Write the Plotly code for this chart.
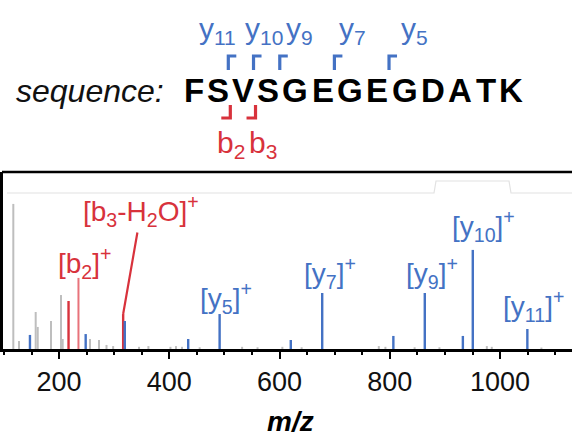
import plotly.graph_objects as go

# ---------------- data ----------------
sequence = list("FSVSGEGEGDATK")
y_ions = [11, 10, 9, 7, 5]          # marked y-ion cleavages
b_ions = [2, 3]                     # marked b-ion cleavages

grey_mz = [116.9, 127.2, 157.5, 161.2, 185.3, 203.4, 206.5, 256.0, 272.4, 286.0, 298.0,
           345.0, 362.0, 402.0, 412.0, 423.0, 455.0, 532.0, 560.0, 605.0, 640.0, 780.0,
           792.0, 845.0, 890.0, 976.0, 985.0, 1075.0]
grey_int = [100.0, 5.5, 25.5, 15.2, 19.3, 37.2, 6.9, 6.9, 6.2, 2.8, 2.0,
            1.5, 2.0, 1.5, 2.0, 1.5, 1.2, 1.5, 1.2, 1.5, 1.2, 2.0,
            1.5, 1.2, 1.2, 2.0, 1.5, 1.0]

red_mz = [217.1, 316.2]              # [b2-H2O]+, [b3-H2O]+
red_int = [33.1, 24.1]
b2_mz = [235.1]                      # [b2]+
b2_int = [49.0]

blue_mz = [147.1, 248.2, 319.2, 434.2, 491.2, 620.3, 677.3, 806.4, 863.4, 932.5, 950.5, 1049.5]
blue_int = [9.7, 10.3, 19.3, 6.9, 24.1, 6.2, 38.6, 9.0, 38.6, 9.0, 68.3, 13.8]

x_ticks = [200, 400, 600, 800, 1000]

# ---------------- style ----------------
W, H = 572, 436
FONT = "Liberation Sans, Arial, sans-serif"
BLUE = "#4472C4"
RED = "#D8323C"
RED_LIGHT = "#E8737B"
GREY = "#BEBEBE"

def px(x):   # pixel -> paper x
    return x / W

def py(y):   # pixel -> paper y
    return 1 - y / H

def sticks(mz, it):
    xs, ys = [], []
    for m, v in zip(mz, it):
        xs += [m, m, None]
        ys += [0, v, None]
    return xs, ys

fig = go.Figure()
for mz, it, col, w in [(grey_mz, grey_int, GREY, 2.0),
                       (red_mz, red_int, RED, 2.4),
                       (b2_mz, b2_int, RED_LIGHT, 2.0),
                       (blue_mz, blue_int, BLUE, 2.4)]:
    xs, ys = sticks(mz, it)
    fig.add_trace(go.Scatter(x=xs, y=ys, mode="lines", line=dict(color=col, width=w),
                             hoverinfo="skip", showlegend=False))

plot_left, plot_top, plot_bottom = 3, 172, 349
fig.update_layout(
    width=W, height=H,
    margin=dict(l=0, r=0, t=0, b=0),
    paper_bgcolor="white", plot_bgcolor="white",
    showlegend=False,
    xaxis=dict(domain=[px(plot_left), 1], range=[98.2, 1130.5],
               tickvals=x_ticks, ticks="outside", ticklen=7, tickwidth=2, tickcolor="black",
               showline=True, linecolor="black", linewidth=2.5, showgrid=False, zeroline=False,
               tickfont=dict(family=FONT, size=27, color="#111111"), ticklabelstandoff=0,
               minor=dict(dtick=50, tick0=0, ticks="outside", ticklen=3, tickwidth=1.5,
                          tickcolor="black", showgrid=False)),
    yaxis=dict(domain=[py(plot_bottom), py(plot_top)], range=[0, 122],
               showline=True, linecolor="black", linewidth=2.5, showgrid=False,
               zeroline=False, showticklabels=False, ticks=""),
)

shapes = []
# top frame line
shapes.append(dict(type="line", xref="paper", yref="paper", x0=px(plot_left - 1), x1=1,
                   y0=py(plot_top), y1=py(plot_top), line=dict(color="black", width=2.5)))
# faint grey guide line with raised notch
path = (f"M {px(7)},{py(193)} L {px(434)},{py(193)} L {px(436)},{py(181)} "
        f"L {px(509)},{py(181)} L {px(511)},{py(193)} L 1,{py(193)}")
shapes.append(dict(type="path", xref="paper", yref="paper", path=path,
                   line=dict(color="#E2E2E2", width=1.2)))

annotations = []
# ---- sequence ----
bold_w = {"F": .611, "S": .667, "V": .667, "G": .778, "E": .667, "D": .722,
          "A": .722, "T": .611, "K": .722}
x0, k = 182.0, 37.8
centers = []
cum = 0.0
for ch in sequence:
    w = bold_w[ch]
    centers.append(x0 + k * (cum + w / 2))
    cum += w
seq_y = 90
for ch, cx in zip(sequence, centers):
    annotations.append(dict(text=f"<b>{ch}</b>", x=px(cx), y=py(seq_y), xref="paper", yref="paper",
                            showarrow=False, xanchor="center", yanchor="middle",
                            font=dict(family=FONT, size=33, color="black")))
annotations.append(dict(text="<i>sequence:</i>", x=px(166), y=py(seq_y + 1), xref="paper", yref="paper",
                        showarrow=False, xanchor="right", yanchor="middle",
                        font=dict(family=FONT, size=32, color="#111111")))

n = len(sequence)
# y-ion brackets (Γ shape) at boundary before residue n-k
y_label_x = {11: 217.5, 10: 263.5, 9: 299, 7: 352.5, 5: 414}
for ion in y_ions:
    i = n - ion
    b = (centers[i - 1] + centers[i]) / 2 - 2
    path = f"M {px(b)},{py(70)} L {px(b)},{py(56)} L {px(b + 8)},{py(56)}"
    shapes.append(dict(type="path", xref="paper", yref="paper", path=path,
                       line=dict(color=BLUE, width=3.2)))
    annotations.append(dict(text=f"y<sub>{ion}</sub>", x=px(y_label_x[ion]), y=py(30),
                            xref="paper", yref="paper", showarrow=False,
                            xanchor="center", yanchor="middle",
                            font=dict(family=FONT, size=30, color=BLUE)))
# b-ion brackets (⌟ shape)
b_label_x = {2: 231, 3: 263}
for ion in b_ions:
    b = (centers[ion - 1] + centers[ion]) / 2
    path = f"M {px(b)},{py(105)} L {px(b)},{py(118)} L {px(b - 9)},{py(118)}"
    shapes.append(dict(type="path", xref="paper", yref="paper", path=path,
                       line=dict(color=RED, width=3.2)))
    annotations.append(dict(text=f"b<sub>{ion}</sub>", x=px(b_label_x[ion]), y=py(145),
                            xref="paper", yref="paper", showarrow=False,
                            xanchor="center", yanchor="middle",
                            font=dict(family=FONT, size=30, color=RED)))

# ---- peak labels ----
peak_labels = [
    ("[b<sub>2</sub>]<sup>+</sup>", 84.5, 263, RED),
    ("[y<sub>5</sub>]<sup>+</sup>", 226, 297.5, BLUE),
    ("[y<sub>7</sub>]<sup>+</sup>", 330, 272.5, BLUE),
    ("[y<sub>9</sub>]<sup>+</sup>", 431.5, 272.5, BLUE),
    ("[y<sub>10</sub>]<sup>+</sup>", 483.5, 226.5, BLUE),
    ("[y<sub>11</sub>]<sup>+</sup>", 533.5, 305.5, BLUE),
]
for txt, cx, cy, col in peak_labels:
    annotations.append(dict(text=txt, x=px(cx), y=py(cy), xref="paper", yref="paper",
                            showarrow=False, xanchor="center", yanchor="middle",
                            font=dict(family=FONT, size=28, color=col)))
# [b3-H2O]+ with leader line to its peak
annotations.append(dict(text="[b<sub>3</sub>-H<sub>2</sub>O]<sup>+</sup>",
                        x=red_mz[1], y=red_int[1], xref="x", yref="y",
                        showarrow=True, arrowhead=0, arrowwidth=2.2, arrowcolor=RED,
                        standoff=0, ax=18, ay=-103,
                        font=dict(family=FONT, size=28, color=RED)))
# axis title
annotations.append(dict(text="<b><i>m/z</i></b>", x=px(290), y=py(421), xref="paper", yref="paper",
                        showarrow=False, xanchor="center", yanchor="middle",
                        font=dict(family=FONT, size=28, color="black")))

fig.update_layout(shapes=shapes, annotations=annotations)
fig.write_html("out.html")
